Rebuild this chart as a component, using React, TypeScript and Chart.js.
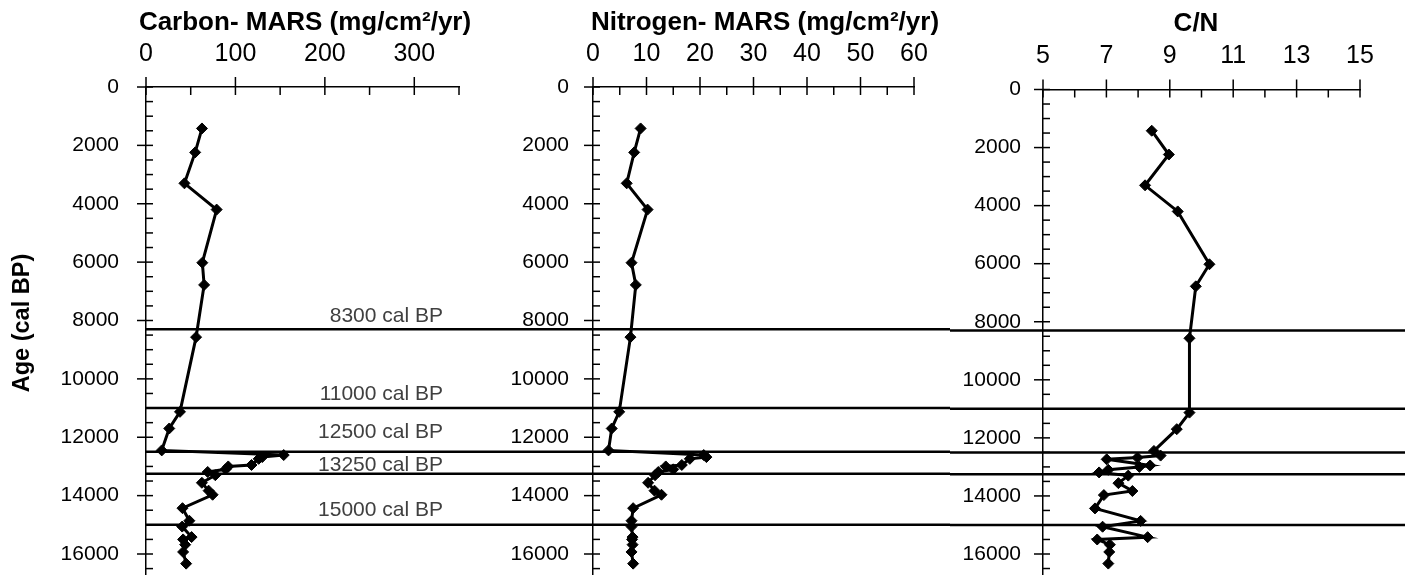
import React, { useEffect, useRef } from 'react';
import { Chart, registerables } from 'chart.js';

Chart.register(...registerables);

// Sample ages (cal BP), shared by the three profiles
const ages = [1420, 2240, 3300, 4200, 6020, 6780, 8570, 11130, 11700, 12450, 12610, 12680, 12740, 12950, 13000, 13100, 13190, 13300, 13560, 13830, 13970, 14430, 14860, 15060, 15420, 15500, 15680, 15930, 16330];
// Carbon mass accumulation rate (mg/cm2/yr)
const carbonMars = [62.6, 55, 43, 79, 63, 65, 56, 38, 26, 17.6, 154, 130, 126, 118, 92, 89, 69, 77.5, 62.5, 70, 74.5, 40.8, 48.5, 40.5, 51, 41.5, 43.8, 41.5, 44.9];
// Nitrogen mass accumulation rate (mg/cm2/yr)
const nitrogenMars = [8.9, 7.7, 6.3, 10.2, 7.2, 8.0, 7.0, 4.9, 3.5, 2.9, 20.7, 21.2, 18.1, 16.6, 13.6, 15.0, 12.2, 11.6, 10.3, 11.5, 12.8, 7.5, 7.2, 7.2, 7.4, 7.3, 7.4, 7.2, 7.5];
// C/N ratio
const cnRatio = [8.43, 8.97, 8.22, 9.25, 10.25, 9.82, 9.62, 9.62, 9.22, 8.5, 8.71, 7.98, 7.01, 8.38, 8.04, 7.06, 6.77, 7.69, 7.38, 7.82, 6.92, 6.64, 8.08, 6.88, 8.3, 6.71, 7.11, 7.09, 7.06];

// Reference horizons
const referenceAges = [8300, 11000, 12500, 13250, 15000];
const referenceLabels = referenceAges.map((a) => `${a} cal BP`);

// Tick labels
const carbonTickLabels = [0, 100, 200, 300];
const nitrogenTickLabels = [0, 10, 20, 30, 40, 50, 60];
const cnTickLabels = [5, 7, 9, 11, 13, 15];
const ageTickLabels = [0, 2000, 4000, 6000, 8000, 10000, 12000, 14000, 16000];

const AGE_MIN = 0;
const AGE_MAX = 17000;
const AGE_MINOR = 500;

const FONT = '"Liberation Sans", Arial, Helvetica, sans-serif';
const H = 600;
const Y16000 = 554; // pixel row of the 16000 tick

type PanelCfg = {
  key: string;
  left: number;
  width: number;
  axisLeft: number;
  axisRight: number;
  top: number;
  values: number[];
  xMin: number;
  xMax: number;
  xMinor: number;
  xLabels: number[];
  yPad: number;
  xPad: number;
  title: string;
  titleX: number;
  titleY: number;
  lineFromAxis?: boolean;
  refLabels?: boolean;
  yTitle?: boolean;
};

const panels: PanelCfg[] = [
  {
    key: 'c', left: 0, width: 480, axisLeft: 146, axisRight: 459, top: 87,
    values: carbonMars, xMin: 0, xMax: 350, xMinor: 50, xLabels: carbonTickLabels,
    yPad: 27, xPad: 18, title: 'Carbon- MARS (mg/cm\u00B2/yr)', titleX: 305, titleY: 23,
    lineFromAxis: true, refLabels: true, yTitle: true,
  },
  {
    key: 'n', left: 480, width: 470, axisLeft: 593, axisRight: 914, top: 87,
    values: nitrogenMars, xMin: 0, xMax: 60, xMinor: 5, xLabels: nitrogenTickLabels,
    yPad: 24, xPad: 18, title: 'Nitrogen- MARS (mg/cm\u00B2/yr)', titleX: 765, titleY: 23,
  },
  {
    key: 'cn', left: 950, width: 455, axisLeft: 1043, axisRight: 1360, top: 89.5,
    values: cnRatio, xMin: 5, xMax: 15, xMinor: 1, xLabels: cnTickLabels,
    yPad: 22, xPad: 18.5, title: 'C/N', titleX: 1196, titleY: 24,
  },
];

const refLabelOffsets = [7, 8, 14, 2.5, 8.5];

function range(min: number, max: number, step: number): number[] {
  const out: number[] = [];
  for (let i = 0; min + i * step <= max + 1e-9; i++) out.push(+(min + i * step).toFixed(6));
  return out;
}

function line(ctx: CanvasRenderingContext2D, x1: number, y1: number, x2: number, y2: number) {
  ctx.beginPath();
  ctx.moveTo(x1, y1);
  ctx.lineTo(x2, y2);
  ctx.stroke();
}

function makeDecor(p: PanelCfg) {
  return {
    id: 'decor_' + p.key,
    beforeDatasetsDraw(chart: any) {
      const ctx = chart.ctx as CanvasRenderingContext2D;
      const ys = chart.scales.y;
      const area = chart.chartArea;
      ctx.save();
      ctx.strokeStyle = '#000';
      ctx.lineWidth = 2.5;
      referenceAges.forEach((a) => {
        const py = ys.getPixelForValue(a);
        line(ctx, p.lineFromAxis ? area.left : 0, py, chart.width, py);
      });
      ctx.restore();
    },
    afterDraw(chart: any) {
      const ctx = chart.ctx as CanvasRenderingContext2D;
      const xs = chart.scales.x;
      const ys = chart.scales.y;
      const area = chart.chartArea;
      ctx.save();
      ctx.strokeStyle = '#000';
      ctx.lineWidth = 1.5;
      // x tick marks
      range(p.xMin, p.xMax, p.xMinor).forEach((v) => {
        const px = xs.getPixelForValue(v);
        const major = p.xLabels.includes(v);
        line(ctx, px, major ? area.top - 10 : area.top, px, area.top + 8);
      });
      // y tick marks
      range(AGE_MIN, AGE_MAX, AGE_MINOR).forEach((v) => {
        const py = ys.getPixelForValue(v);
        const major = ageTickLabels.includes(v);
        line(ctx, major ? area.left - 9 : area.left, py, area.left + 7, py);
      });
      // reference labels
      if (p.refLabels) {
        ctx.fillStyle = '#404040';
        ctx.font = `21px ${FONT}`;
        ctx.textAlign = 'right';
        ctx.textBaseline = 'alphabetic';
        referenceAges.forEach((a, i) => {
          const py = ys.getPixelForValue(a);
          ctx.fillText(referenceLabels[i], 443 - p.left, py - refLabelOffsets[i]);
        });
      }
      // panel title
      ctx.fillStyle = '#000';
      ctx.font = `bold 26px ${FONT}`;
      ctx.textAlign = 'center';
      ctx.textBaseline = 'middle';
      ctx.fillText(p.title, p.titleX - p.left, p.titleY);
      // y axis title
      if (p.yTitle) {
        ctx.save();
        ctx.translate(23, 323);
        ctx.rotate(-Math.PI / 2);
        ctx.font = `bold 23.5px ${FONT}`;
        ctx.fillText('Age (cal BP)', 0, 0);
        ctx.restore();
      }
      ctx.restore();
    },
  };
}

function Panel({ p }: { p: PanelCfg }) {
  const ref = useRef<HTMLCanvasElement | null>(null);
  useEffect(() => {
    if (!ref.current) return;
    const bottom = p.top + ((Y16000 - p.top) * (AGE_MAX - AGE_MIN)) / 16000;
    const xTicks = range(p.xMin, p.xMax, p.xMinor);
    const yTicks = range(AGE_MIN, AGE_MAX, AGE_MINOR);
    const chart = new Chart(ref.current, {
      type: 'line',
      data: {
        datasets: [
          {
            data: ages.map((a, i) => ({ x: p.values[i], y: a })),
            borderColor: '#000',
            borderWidth: 3,
            pointStyle: 'rectRot',
            pointRadius: 5.5,
            pointBackgroundColor: '#000',
            pointBorderColor: '#000',
            pointBorderWidth: 1,
            tension: 0,
            fill: false,
          },
        ],
      },
      options: {
        animation: false,
        responsive: false,
        maintainAspectRatio: false,
        devicePixelRatio: 1,
        layout: {
          padding: {
            left: 0,
            top: 0,
            right: p.width - (p.axisRight - p.left),
            bottom: H - bottom,
          },
        },
        plugins: {
          legend: { display: false },
          tooltip: { enabled: false },
          title: { display: false },
        },
        scales: {
          x: {
            type: 'linear',
            position: 'top',
            min: p.xMin,
            max: p.xMax,
            afterBuildTicks: (s: any) => {
              s.ticks = xTicks.map((v) => ({ value: v }));
            },
            afterFit: (s: any) => {
              s.height = p.top;
              s.paddingLeft = 0;
              s.paddingRight = 0;
              s.paddingTop = 0;
              s.paddingBottom = 0;
            },
            ticks: {
              autoSkip: false,
              maxRotation: 0,
              minRotation: 0,
              padding: p.xPad,
              color: '#000',
              font: { family: FONT, size: 25 },
              callback: (v: any) => (p.xLabels.includes(Number(v)) ? String(v) : ''),
            },
            grid: { display: false, drawTicks: false },
            border: { display: true, color: '#000', width: 1.5 },
          },
          y: {
            type: 'linear',
            reverse: true,
            min: AGE_MIN,
            max: AGE_MAX,
            afterBuildTicks: (s: any) => {
              s.ticks = yTicks.map((v) => ({ value: v }));
            },
            afterFit: (s: any) => {
              s.width = p.axisLeft - p.left;
              s.paddingLeft = 0;
              s.paddingRight = 0;
              s.paddingTop = 0;
              s.paddingBottom = 0;
            },
            ticks: {
              autoSkip: false,
              padding: p.yPad,
              color: '#000',
              font: { family: FONT, size: 21 },
              callback: (v: any) => (ageTickLabels.includes(Number(v)) ? String(v) : ''),
            },
            grid: { display: false, drawTicks: false },
            border: { display: true, color: '#000', width: 1.5 },
          },
        },
      } as any,
      plugins: [makeDecor(p)],
    } as any);
    return () => chart.destroy();
  }, []);
  return (
    <canvas
      ref={ref}
      width={p.width}
      height={H}
      style={{ position: 'absolute', left: p.left, top: 0, width: p.width, height: H }}
    />
  );
}

export default function App() {
  return (
    <div
      style={{
        position: 'absolute',
        left: 0,
        top: 0,
        width: 1405,
        height: 575,
        overflow: 'hidden',
        background: '#fff',
      }}
    >
      {panels.map((p) => (
        <Panel key={p.key} p={p} />
      ))}
    </div>
  );
}
